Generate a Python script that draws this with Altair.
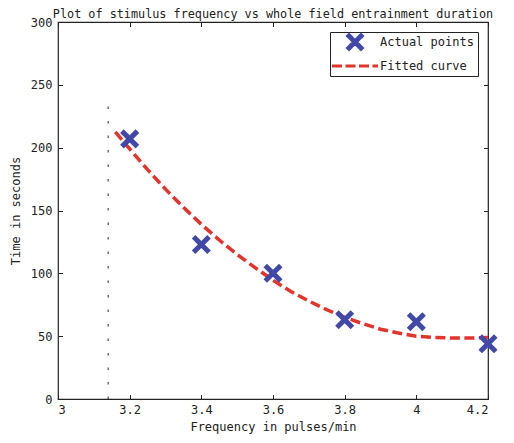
import altair as alt
import pandas as pd

# Measured points
freq = [3.2, 3.4, 3.6, 3.8, 4.0, 4.2]
duration = [207, 123, 100, 63, 61.5, 44]

# Fitted curve samples
curve_x = [3.16, 3.2, 3.25, 3.3, 3.35, 3.4, 3.45, 3.5, 3.55, 3.6, 3.65,
           3.7, 3.75, 3.8, 3.85, 3.9, 3.95, 4.0, 4.05, 4.1, 4.15, 4.2]
curve_y = [212.5, 199, 182.5, 167, 152.5, 139, 126.5, 115, 104.5, 94.5, 85.5,
           78, 71, 65, 60, 55.5, 52.5, 50, 49, 48.5, 48.5, 49]

# Dotted vertical marker line
vline_x = [3.14]
vline_y0 = [0]
vline_y1 = [235]

x_ticks = [3, 3.2, 3.4, 3.6, 3.8, 4.0, 4.2]
y_ticks = [0, 50, 100, 150, 200, 250, 300]
series = ["Actual points", "Fitted curve"]

BLUE = "#4148a8"
RED = "#e3342b"
FONT = "DejaVu Sans Mono"
XPATH = "M-1,-1L1,1M1,-1L-1,1"
LINEPATH = "M-2,0L2,0"

pts = pd.DataFrame({"x": freq, "y": duration, "s": series[0]})
crv = pd.DataFrame({"x": curve_x, "y": curve_y, "s": series[1]})
vl = pd.DataFrame({"x": vline_x, "y": vline_y0, "y2": vline_y1})

xscale = alt.Scale(domain=[3, 4.2], nice=False, zero=False)
yscale = alt.Scale(domain=[0, 300], nice=False)

tick_axis = dict(grid=False, domain=False, tickSize=4.5, offset=-4.5,
                 tickColor="#222", labelFont=FONT, labelFontSize=12,
                 labelColor="#222")
title_axis = dict(titleFont=FONT, titleFontSize=12, titleFontWeight="normal",
                  titleColor="#222")

xaxis = alt.Axis(values=x_ticks, format="~g", title="Frequency in pulses/min",
                 labelPadding=5, titlePadding=6, **tick_axis, **title_axis)
yaxis = alt.Axis(values=y_ticks, title="Time in seconds", labelPadding=6,
                 titlePadding=8, **tick_axis, **title_axis)
xtop = alt.Axis(orient="top", values=x_ticks, labels=False, title=None,
                minExtent=0, **tick_axis)
yright = alt.Axis(orient="right", values=y_ticks, labels=False, title=None,
                  minExtent=0, **tick_axis)

is_fit = "datum.value === 'Fitted curve'"
color_scale = alt.Scale(domain=series, range=[BLUE, RED])
legend = alt.Legend(
    title=None, orient="top-right", offset=10, fillColor="white",
    strokeColor="#222", padding=4, labelFont=FONT, labelFontSize=12,
    labelColor="#222", labelOffset=19, symbolOffset=15, rowPadding=-6,
    cornerRadius=0,
    symbolType={"expr": f"{is_fit} ? '{LINEPATH}' : '{XPATH}'"},
    symbolSize={"expr": f"{is_fit} ? 529 : 240"},
    symbolStrokeWidth={"expr": f"{is_fit} ? 3 : 5"},
    symbolDash={"expr": f"{is_fit} ? [10, 3.5] : [1, 0]"},
    symbolFillColor="transparent",
    symbolOpacity=1,
)

curve = alt.Chart(crv).mark_line(strokeWidth=3.5, strokeDash=[10, 4.5]).encode(
    x=alt.X("x:Q", scale=xscale, axis=xaxis),
    y=alt.Y("y:Q", scale=yscale, axis=yaxis),
    color=alt.Color("s:N", scale=color_scale, legend=legend),
)

points = alt.Chart(pts).mark_point(shape=XPATH, filled=False, size=240,
                                   strokeWidth=5, opacity=1).encode(
    x=alt.X("x:Q", scale=xscale, axis=None),
    y=alt.Y("y:Q", scale=yscale, axis=None),
    color=alt.Color("s:N", scale=color_scale, legend=legend),
)

dotted = alt.Chart(vl).mark_rule(color="#222", strokeWidth=1,
                                 strokeDash=[2.5, 12]).encode(
    x=alt.X("x:Q", scale=xscale, axis=None),
    y=alt.Y("y:Q", scale=yscale, axis=None),
    y2="y2:Q",
)

frame_axes = alt.Chart(pts).mark_point(opacity=0).encode(
    x=alt.X("x:Q", scale=xscale, axis=xtop),
    y=alt.Y("y:Q", scale=yscale, axis=yright),
)

chart = alt.layer(dotted, curve, points, frame_axes).resolve_axis(
    x="independent", y="independent"
).properties(
    width=498, height=426,
    autosize=alt.AutoSizeParams(type="fit", contains="padding"),
    title=alt.Title("Plot of stimulus frequency vs whole field entrainment duration",
                    font=FONT, fontSize=11.8, fontWeight="normal", color="#222",
                    offset=-5, anchor="middle", frame="group"),
    padding={"left": 1, "top": 1, "right": 0, "bottom": 2},
).configure_view(stroke="#222", strokeWidth=1.2)

chart.save("out.html", embed_options={"renderer": "svg", "actions": False})
